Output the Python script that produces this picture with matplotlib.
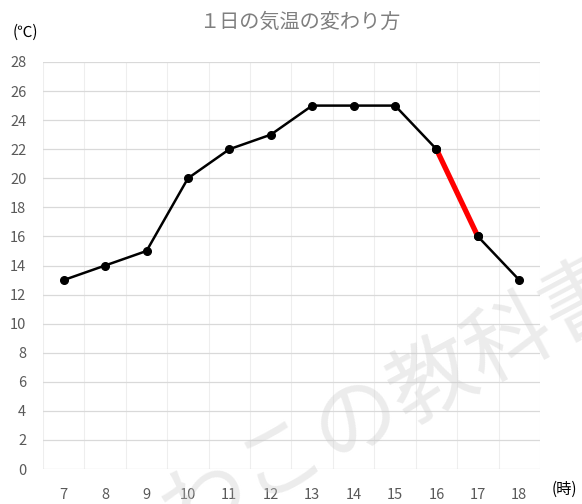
import matplotlib
matplotlib.use("Agg")
import matplotlib.pyplot as plt
from matplotlib.ticker import MultipleLocator

plt.rcParams['font.family'] = ['Noto Sans CJK JP', 'DejaVu Sans']

hours = ["7", "8", "9", "10", "11", "12", "13", "14", "15", "16", "17", "18"]
temps = [13, 14, 15, 20, 22, 23, 25, 25, 25, 22, 16, 13]
red_from, red_to = 9, 10  # 16時 -> 17時

fig = plt.figure(figsize=(5.82, 5.04), dpi=100)
ax = fig.add_axes([0.0739, 0.0694, 0.8539, 0.8076])

x = list(range(len(hours)))
ax.plot(x, temps, color="black", lw=1.8, marker="o", ms=5.5, zorder=3)
ax.plot(x[red_from:red_to + 1], temps[red_from:red_to + 1], color="#ff0000",
        lw=3.8, solid_capstyle="butt", zorder=4)
ax.plot([x[red_from], x[red_to]], [temps[red_from], temps[red_to]], "o",
        color="black", ms=5.5, zorder=5)

ax.set_xlim(-0.5, len(hours) - 0.5)
ax.set_ylim(0, 28)
ax.set_xticks(x)
ax.set_xticklabels(hours)
ax.yaxis.set_major_locator(MultipleLocator(2))
ax.xaxis.set_minor_locator(MultipleLocator(0.5))
ax.grid(axis="y", which="major", color="#d9d9d9", lw=0.9)
ax.grid(axis="x", which="minor", color="#eeeeee", lw=0.8)
ax.set_axisbelow(True)
for s in ax.spines.values():
    s.set_visible(False)
ax.tick_params(axis="both", which="both", length=0, colors="#595959", labelsize=10.5)
ax.tick_params(axis="x", pad=14)
ax.tick_params(axis="y", pad=12)

fig.text(0.515, 0.955, "１日の気温の変わり方", ha="center", va="center",
         fontsize=14.5, color="#7f7f7f")
fig.text(0.043, 0.935, "(℃)", ha="center", va="center", fontsize=11, color="black")
fig.text(0.97, 0.03, "(時)", ha="center", va="center", fontsize=11, color="black")

# watermark, under the line but over the grid
ax.text(0.68, 0.205, "わこの教科書", transform=fig.transFigure, ha="center",
        va="center", rotation=28, fontsize=62, color="#c8c8c8", alpha=0.35,
        clip_on=False, zorder=2)

fig.savefig("out.png", dpi=100)
plt.close(fig)
